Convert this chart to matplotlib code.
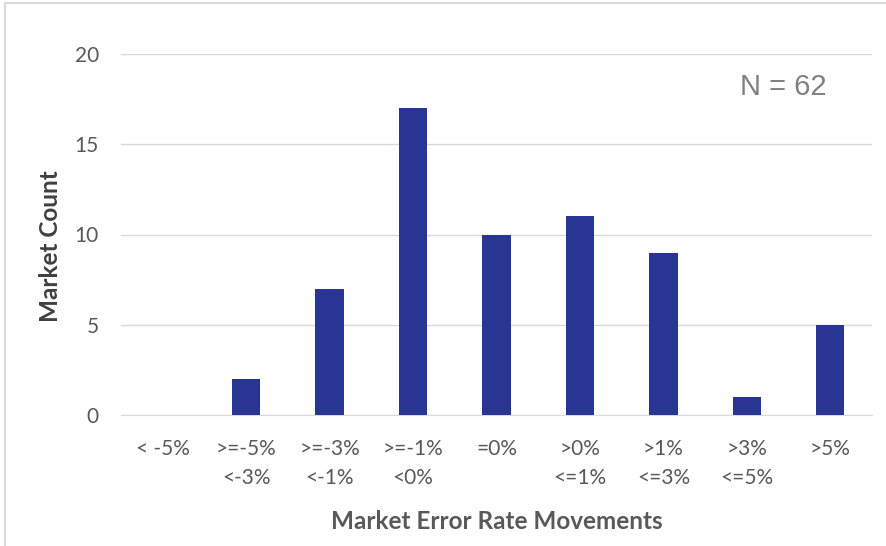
import matplotlib.pyplot as plt
from matplotlib.patches import Rectangle

categories = ['< -5%', '>=-5%\n<-3%', '>=-3%\n<-1%', '>=-1%\n<0%', '=0%',
              '>0%\n<=1%', '>1%\n<=3%', '>3%\n<=5%', '>5%']
counts = [0, 2, 7, 17, 10, 11, 9, 1, 5]
yticks = [0, 5, 10, 15, 20]

plt.rcParams['font.family'] = ['Lato', 'DejaVu Sans']

fig = plt.figure(figsize=(8.86, 5.46), dpi=100)
ax = fig.add_axes([121 / 886, 1 - 415 / 546, 751 / 886, 361 / 546])

x = list(range(len(categories)))
ax.bar(x, counts, width=0.34, color='#283593', zorder=3)

ax.set_xlim(-0.5, len(categories) - 0.5)
ax.set_ylim(0, 20)
ax.set_yticks(yticks)
ax.set_xticks(x)
ax.set_xticklabels(categories, linespacing=1.6)
ax.tick_params(axis='both', length=0, labelsize=15, colors='#595959')
ax.tick_params(axis='x', pad=17)
ax.tick_params(axis='y', pad=16)
ax.grid(axis='y', color='#d9d9d9', linewidth=1, zorder=0)
for s in ['top', 'right', 'left']:
    ax.spines[s].set_visible(False)
ax.spines['bottom'].set_color('#d9d9d9')

ax.set_xlabel('Market Error Rate Movements', fontsize=17.5, fontweight='bold',
              color='#595959', va='center')
ax.xaxis.set_label_coords(0.5, -0.296)
ax.set_ylabel('Market Count', fontsize=17.5, fontweight='bold',
              color='#404040', va='center')
ax.yaxis.set_label_coords(-0.0945, 0.468)

fig.text(783 / 886, 1 - 87 / 546, 'N = 62', fontsize=21, color='#808080',
         family='Liberation Sans', ha='center', va='center')

# chart border (partly cut off in the original)
fig.patches.append(Rectangle((5 / 886, -0.1), 1.2, 1.1 - 3 / 546,
                             transform=fig.transFigure, fill=False,
                             edgecolor='#d9d9d9', linewidth=1.5))

fig.savefig('out.png', dpi=100)
